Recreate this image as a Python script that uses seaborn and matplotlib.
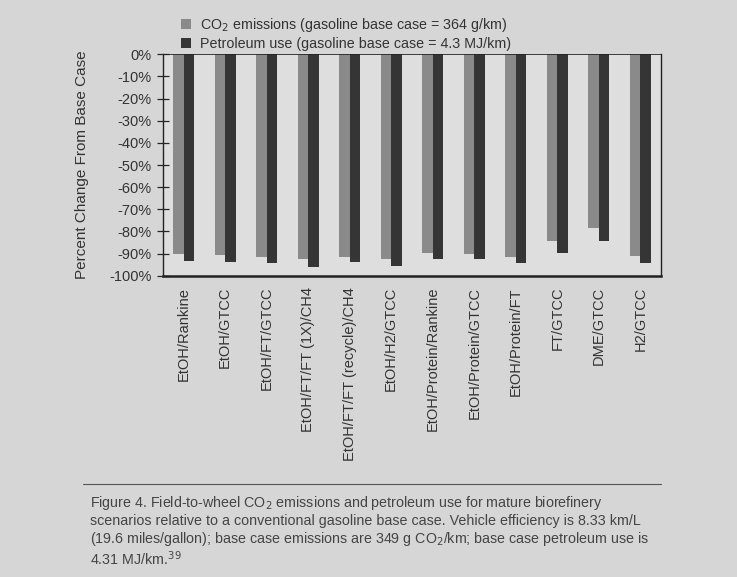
import numpy as np
import pandas as pd
import seaborn as sns
import matplotlib.pyplot as plt

# 시나리오 / 값 (기준 대비 % 변화)
scenarios = ['EtOH/Rankine', 'EtOH/GTCC', 'EtOH/FT/GTCC', 'EtOH/FT/FT (1X)/CH4',
             'EtOH/FT/FT (recycle)/CH4', 'EtOH/H2/GTCC', 'EtOH/Protein/Rankine',
             'EtOH/Protein/GTCC', 'EtOH/Protein/FT', 'FT/GTCC', 'DME/GTCC', 'H2/GTCC']
co2_change = [-90.0, -90.5, -91.3, -92.5, -91.3, -92.5, -89.8, -90.2, -91.3, -84.1, -78.5, -91.0]
petro_change = [-93.5, -93.8, -94.3, -95.8, -93.8, -95.5, -92.5, -92.5, -94.3, -89.8, -84.5, -94.3]
series_names = [r'CO$_2$ emissions (gasoline base case = 364 g/km)',
                'Petroleum use (gasoline base case = 4.3 MJ/km)']
y_ticks = list(range(0, -101, -10))

df = pd.DataFrame({
    'scenario': scenarios * 2,
    'value': co2_change + petro_change,
    'series': [series_names[0]] * len(scenarios) + [series_names[1]] * len(scenarios),
})

sns.set_style('ticks')
plt.rcParams['font.family'] = ['Liberation Sans', 'DejaVu Sans']

bg = '#d6d6d6'
fig = plt.figure(figsize=(7.37, 5.77), dpi=100, facecolor=bg)
ax = fig.add_axes([0.221, 0.522, 0.676, 0.384], facecolor='#dedede')

sns.barplot(data=df, x='scenario', y='value', hue='series',
            palette=['#8a8a8a', '#353535'], width=0.5, dodge=True,
            saturation=1, linewidth=0, ax=ax, legend=True)

ax.set_ylim(-100, 0)
ax.set_xlim(-0.5, len(scenarios) - 0.5)
ax.set_yticks(y_ticks)
ax.set_yticklabels([f'{t}%' for t in y_ticks], fontsize=10.5, color='#333333')
ax.set_xticks(range(len(scenarios)))
ax.set_xticklabels(scenarios, rotation=90, fontsize=10.5, color='#333333', va='top')
ax.tick_params(axis='x', length=0, pad=8)
ax.tick_params(axis='y', direction='inout', length=8, width=0.9, pad=4)
ax.set_xlabel('')
ax.set_ylabel('Percent Change From Base Case', fontsize=11, color='#333333', labelpad=15)
for s in ax.spines.values():
    s.set_color('#222222')
    s.set_linewidth(1.0)
ax.spines['bottom'].set_linewidth(1.8)
ax.spines['top'].set_linewidth(0.6)

# 범례 (상단)
h, l = ax.get_legend_handles_labels()
ax.legend(h, l, loc='upper left', bbox_to_anchor=(0.228, 0.995), bbox_transform=fig.transFigure,
          frameon=False, fontsize=10.3, handlelength=0.7, handleheight=0.7,
          handletextpad=0.6, labelspacing=0.2, labelcolor='#333333')

# 캡션
fig.add_artist(plt.Line2D([0.113, 0.897], [0.161, 0.161], color='#555555', lw=0.8))
caption = ('Figure 4. Field-to-wheel CO$_2$ emissions and petroleum use for mature biorefinery\n'
           'scenarios relative to a conventional gasoline base case. Vehicle efficiency is 8.33 km/L\n'
           '(19.6 miles/gallon); base case emissions are 349 g CO$_2$/km; base case petroleum use is\n'
           '4.31 MJ/km.$^{39}$')
fig.text(0.122, 0.144, caption, fontsize=10.3, color='#444444', va='top', ha='left', linespacing=1.15)

fig.savefig('out.png', dpi=100, facecolor=bg)
